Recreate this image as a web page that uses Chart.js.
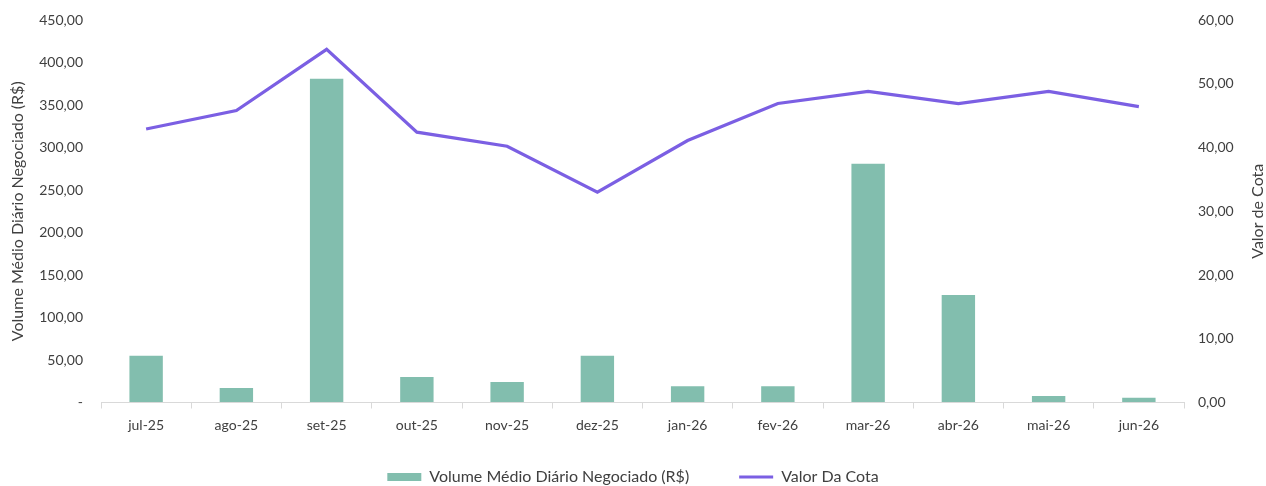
<!DOCTYPE html>
<html><head><meta charset="utf-8">
<script src="https://cdn.jsdelivr.net/npm/chart.js@4.4.1/dist/chart.umd.min.js"></script>
<style>html,body{margin:0;padding:0;background:#fff;}#wrap{width:1266px;height:486px;}</style>
</head><body><div id="wrap"><canvas id="c" width="1266" height="486"></canvas></div>
<script>
const categories = ['jul-25','ago-25','set-25','out-25','nov-25','dez-25','jan-26','fev-26','mar-26','abr-26','mai-26','jun-26'];
const volumeMedio = [55, 17, 381, 30, 24, 55, 19, 19, 281, 126.5, 7.6, 5.6];
const valorCota = [42.9, 45.8, 55.4, 42.4, 40.2, 33.0, 41.1, 46.9, 48.8, 46.9, 48.8, 46.4];
const leftTicks = {min: 0, max: 450, step: 50};
const rightTicks = {min: 0, max: 60, step: 10};
const rightTitle = 'Valor de Cota';

const FONT = "'Source Sans Pro', Lato, 'Open Sans', sans-serif";
const fmt = v => v.toFixed(2).replace('.', ',');

const rightTitlePlugin = {
  id:'rightTitle',
  afterDraw(chart){
    const ctx = chart.ctx, a = chart.chartArea;
    ctx.save();
    ctx.translate(1258, (a.top + a.bottom)/2);
    ctx.rotate(-Math.PI/2);
    ctx.font = "16px " + FONT;
    ctx.fillStyle = '#404040';
    ctx.textAlign = 'center';
    ctx.textBaseline = 'middle';
    ctx.fillText(rightTitle, 0, 0);
    ctx.restore();
  }
};
const legendLayoutPlugin = {
  id:'legendLayout',
  beforeInit(chart){
    const lg = chart.legend;
    if (lg && !lg._patched){
      const orig = lg.fit;
      lg.fit = function(){ orig.call(this); this.height = 51.5; };
      lg._patched = true;
    }
  },
  afterLayout(chart){
    const lg = chart.legend;
    lg.top = 419; lg.bottom = 486; lg.height = 67;
  }
};

new Chart(document.getElementById('c'), {
  data: {
    labels: categories,
    datasets: [
      {type:'line', label:'Valor Da Cota', data: valorCota, yAxisID:'y1', borderColor:'#7B5FE3', backgroundColor:'#7B5FE3', borderWidth:3.2, pointRadius:0, pointStyle:'line', tension:0, order:0},
      {type:'bar', label:'Volume Médio Diário Negociado (R$)', data: volumeMedio, yAxisID:'y', backgroundColor:'#82BEAE', borderWidth:0, barPercentage:0.37, categoryPercentage:1, pointStyle:'rect', order:1}
    ]
  },
  plugins:[rightTitlePlugin, legendLayoutPlugin],
  options: {
    responsive:false, animation:false,
    layout:{padding:{top:6, bottom:0, left:0, right:0}},
    plugins:{
      tooltip:{enabled:false},
      legend:{position:'bottom', reverse:true,
        labels:{usePointStyle:true, pointStyleWidth:34, boxHeight:8, padding:50, color:'#404040', font:{family:FONT, size:16}}}
    },
    scales:{
      x:{offset:true,
        grid:{drawOnChartArea:false, drawTicks:true, tickLength:6, color:'#d9d9d9', offset:true},
        border:{color:'#d9d9d9'},
        afterFit: s => { s.height = 32; },
        ticks:{color:'#404040', font:{family:FONT, size:14}, padding:8.5}},
      y:{position:'left', min:leftTicks.min, max:leftTicks.max,
        grid:{display:true, drawOnChartArea:false, drawTicks:true, tickLength:6.4, color:'rgba(0,0,0,0)'}, border:{display:false},
        afterFit: s => { s.width = 101; },
        ticks:{stepSize:leftTicks.step, padding:11.6, color:'#404040', font:{family:FONT, size:14},
          callback: v => v === 0 ? '-' : fmt(v)},
        title:{display:true, text:'Volume Médio Diário Negociado (R$)', color:'#404040', font:{family:FONT, size:16, lineHeight:1}, padding:{top:10,bottom:0}}},
      y1:{position:'right', min:rightTicks.min, max:rightTicks.max,
        grid:{display:true, drawOnChartArea:false, drawTicks:true, tickLength:2.4, color:'rgba(0,0,0,0)'}, border:{display:false},
        afterFit: s => { s.width = 82; },
        ticks:{stepSize:rightTicks.step, padding:11.6, color:'#404040', font:{family:FONT, size:14},
          callback: v => fmt(v)}}
    }
  }
});
</script></body></html>
